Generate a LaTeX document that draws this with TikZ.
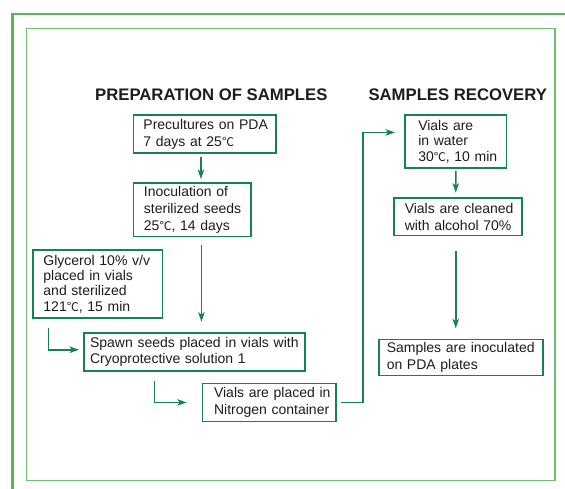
\documentclass[tikz,border=0pt]{standalone}
\usepackage{fontspec}
\setmainfont{Liberation Sans}
\newfontfamily\cjkfont{Noto Sans CJK SC}
\usetikzlibrary{arrows.meta,calc}
\definecolor{boxgreen}{RGB}{22,130,82}
\definecolor{framegreen}{RGB}{92,178,92}
\definecolor{innergreen}{RGB}{112,190,112}
\definecolor{txt}{RGB}{30,28,28}
\newcommand\degC{{\cjkfont\fontsize{12pt}{12pt}\selectfont ℃}}
\newcommand\lin[1]{\mbox{#1}}
\begin{document}
\begin{tikzpicture}[x=1pt,y=-1pt,
  stepbox/.style={draw=boxgreen, line width=1.5pt, anchor=north west, inner ysep=0pt,
    align=left, text=txt, font=\fontsize{14pt}{16.7pt}\selectfont},
  arr/.style={draw=boxgreen, line width=1.5pt, -{Stealth[length=9.5pt,width=6.5pt,inset=2.5pt]}},
  title/.style={anchor=base west, inner sep=0pt, text=txt,
    font=\fontsize{16.7pt}{20pt}\selectfont\bfseries}]
\useasboundingbox (0,0) rectangle (565,489);
\fill[white] (0,0) rectangle (565,489);
% frames
\draw[framegreen, line width=2.6pt] (12.3,489) -- (12.3,14) -- (565,14);
\draw[innergreen, line width=1.4pt] (26.7,28.3) rectangle (555,480.7);
% titles
\node[title] (t1) at (95,100.7) {PREPARATION OF SAMPLES};
\node[title] (t2) at (368.3,101) {SAMPLES RECOVERY};
% boxes
\node[stepbox, inner xsep=10pt, minimum width=142.6pt, minimum height=38pt, text width=122.6pt]
  (pre) at (132.7,114.3) {\lin{Precultures on PDA}\\\lin{7 days at 25\degC}};
\node[stepbox, inner xsep=10.5pt, minimum width=117.6pt, minimum height=53.7pt, text width=96.6pt,
  font=\fontsize{14pt}{16.8pt}\selectfont]
  (ino) at (132.7,182.3) {\lin{Inoculation of}\\\lin{sterilized seeds}\\\lin{25\degC, 14 days}};
\node[stepbox, inner xsep=10.4pt, minimum width=129.4pt, minimum height=68pt, text width=108.6pt,
  font=\fontsize{14pt}{15.3pt}\selectfont]
  (gly) at (32.3,249.3) {\lin{Glycerol 10\% v/v}\\\lin{placed in vials}\\\lin{and sterilized}\\\lin{121\degC, 15 min}};
\node[stepbox, inner xsep=6pt, minimum width=220.7pt, minimum height=38pt, text width=208.7pt]
  (spawn) at (83.3,332) {\lin{Spawn seeds placed in vials with}\\\lin{Cryoprotective solution 1}};
\node[stepbox, inner xsep=11.6pt, minimum width=133.3pt, minimum height=38pt, text width=110.1pt]
  (vials) at (201.7,382.7) {\lin{Vials are placed in}\\\lin{Nitrogen container}};
\node[stepbox, inner xsep=13.5pt, minimum width=101.7pt, minimum height=53pt, text width=74.7pt,
  font=\fontsize{14pt}{15.3pt}\selectfont]
  (water) at (404,114.3) {\lin{Vials are}\\\lin{in water}\\\lin{30\degC, 10 min}};
\node[stepbox, inner xsep=10.7pt, minimum width=127.7pt, minimum height=37.7pt, text width=106.3pt]
  (clean) at (393.3,197.3) {\lin{Vials are cleaned}\\\lin{with alcohol 70\%}};
\node[stepbox, inner xsep=7.7pt, minimum width=164pt, minimum height=36pt, text width=148.6pt]
  (samp) at (378.3,338.8) {\lin{Samples are inoculated}\\\lin{on PDA plates}};
% connectors
\draw[arr] ($(pre.south)+(-3.8,3.4)$) -- ($(ino.north)+(8.7,-3.3)$);
\draw[arr] ($(ino.south)+(9.2,8)$) -- ($(spawn.north)+(7.05,-10.3)$);
\draw[arr] ($(gly.south west)+(16,8.7)$) |- ($(spawn.west)+(-4.3,-2)$);
\draw[arr] ($(spawn.south west)+(71,9.3)$) |- ($(vials.west)+(-15,0)$);
\draw[arr] ($(vials.east)+(4.3,0)$) -- ++(22.4,0) |- ($(water.west)+(-9,-9.1)$);
\draw[arr] ($(water.south)+(0.15,2)$) -- ($(clean.north)+(-2.15,-4.6)$);
\draw[arr] ($(clean.south)+(-2.15,15)$) -- ($(samp.north)+(-5.3,-10.5)$);
\end{tikzpicture}
\end{document}
